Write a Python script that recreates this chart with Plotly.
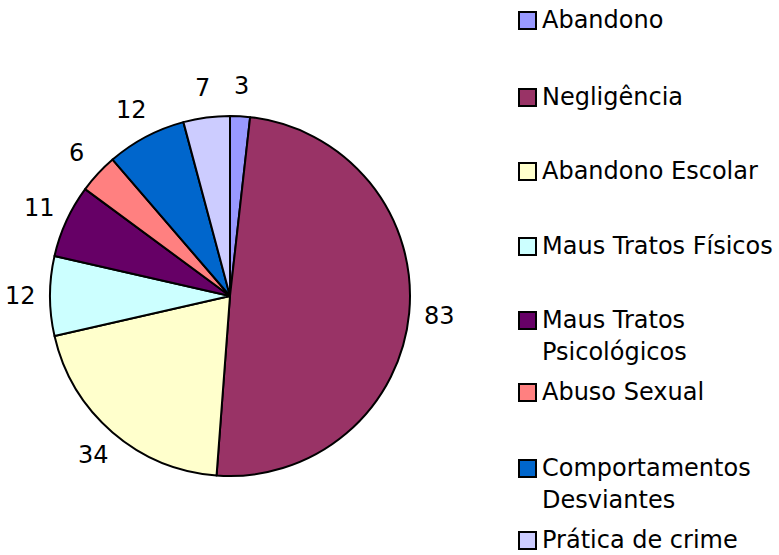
import math
import plotly.graph_objects as go

W, H = 779, 555

# categories and values
categorias = ["Abandono", "Negligência", "Abandono Escolar", "Maus Tratos Físicos",
              "Maus Tratos Psicológicos", "Abuso Sexual", "Comportamentos Desviantes",
              "Prática de crime"]
valores = [3, 83, 34, 12, 11, 6, 12, 7]

# legend texts, wrapped as in the original
legenda = [["Abandono"], ["Negligência"], ["Abandono Escolar"], ["Maus Tratos Físicos"],
           ["Maus Tratos", "Psicológicos"], ["Abuso Sexual"], ["Comportamentos", "Desviantes"],
           ["Prática de crime"]]
legenda_y = [20, 97, 171, 246, 320, 392, 468, 540]  # row centre in px

cores = ["#9999FF", "#993366", "#FFFFCC", "#CCFFFF",
         "#660066", "#FF8080", "#0066CC", "#CCCCFF"]

FONT = "DejaVu Sans"
FS = 24

# pie box in pixels
cx, cy, R = 230, 296, 180

fig = go.Figure()
fig.add_trace(go.Pie(
    labels=categorias,
    values=valores,
    sort=False,
    direction="clockwise",
    rotation=0,
    marker=dict(colors=cores, line=dict(color="black", width=2)),
    textinfo="none",
    domain=dict(x=[(cx - R) / W, (cx + R) / W], y=[(H - cy - R) / H, (H - cy + R) / H]),
    showlegend=False,
    hoverinfo="label+value",
))

annotations = []

# value labels outside the slices, Excel style (placed from the slice mid angle)
total = sum(valores)
acum = 0
r_lab = R + 30
for v in valores:
    ang = 2 * math.pi * (acum + v / 2) / total
    acum += v
    px = cx + r_lab * math.sin(ang)
    py = cy - r_lab * math.cos(ang)
    annotations.append(dict(xref="paper", yref="paper", x=px / W, y=(H - py) / H,
                            xanchor="center", yanchor="middle", showarrow=False,
                            text=str(v), font=dict(family=FONT, size=FS, color="black")))

# hand-made legend, spaced like the original
shapes = []
for linhas, yc, cor in zip(legenda, legenda_y, cores):
    shapes.append(dict(type="rect", xref="paper", yref="paper",
                       x0=519 / W, x1=536 / W, y0=(H - yc - 9) / H, y1=(H - yc + 8) / H,
                       fillcolor=cor, line=dict(color="black", width=2)))
    for k, t in enumerate(linhas):
        annotations.append(dict(xref="paper", yref="paper", x=541 / W, y=(H - yc - 32 * k) / H,
                                xanchor="left", yanchor="middle", align="left", showarrow=False,
                                borderpad=0,
                                text=t, font=dict(family=FONT, size=FS, color="black")))

fig.update_layout(
    width=W, height=H,
    margin=dict(l=0, r=0, t=0, b=0),
    paper_bgcolor="white", plot_bgcolor="white",
    shapes=shapes,
    annotations=annotations,
)

# drop the browser's default body margin so the figure sits at the page corner
fig.write_html("out.html", config={"displayModeBar": False},
               post_script="document.body.style.margin='0';")
